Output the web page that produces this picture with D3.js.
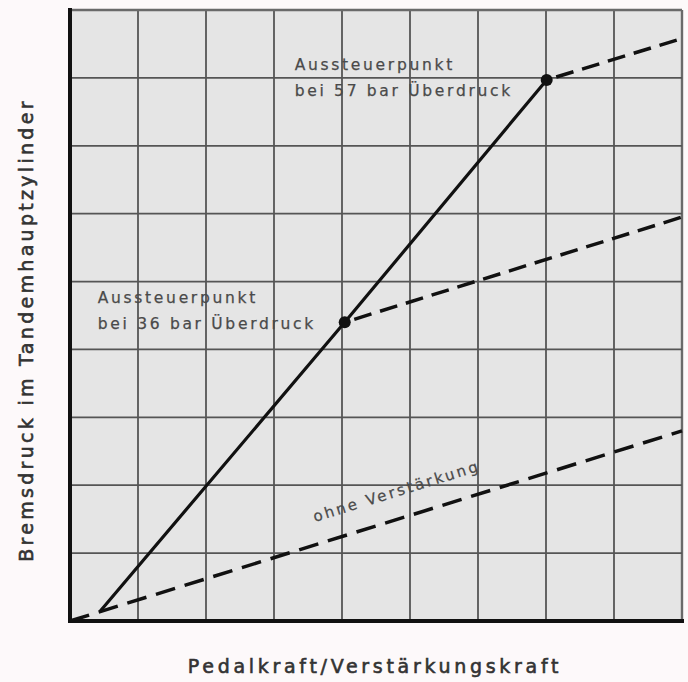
<!DOCTYPE html>
<html>
<head>
<meta charset="utf-8">
<script src="https://cdn.jsdelivr.net/npm/d3@7"></script>
<style>
  html, body { margin: 0; padding: 0; background: #fdf9fa; }
  svg { display: block; }
</style>
</head>
<body>
<svg id="chart" width="688" height="682"></svg>
<script>
// Grid divisions (no numeric tick labels are printed on this diagram)
const xGrid = [0, 1, 2, 3, 4, 5, 6, 7, 8, 9];
const yGrid = [0, 1, 2, 3, 4, 5, 6, 7, 8, 9];

// Curves in grid units: pedal force (x) vs. brake pressure (y)
const ohneVerstaerkung = [[0, 0], [9, 2.8]];
const mitVerstaerkung = [[0.44, 0.14], [4.04, 4.4], [7.01, 7.97]];
const nach36bar = [[4.04, 4.4], [9, 5.95]];
const nach57bar = [[7.01, 7.97], [9, 8.58]];

// Saturation points (Aussteuerpunkte)
const aussteuerpunkte = [
  { x: 4.04, y: 4.4, lines: ["Aussteuerpunkt", "bei 36 bar Überdruck"] },
  { x: 7.01, y: 7.97, lines: ["Aussteuerpunkt", "bei 57 bar Überdruck"] }
];

const xLabel = "Pedalkraft/Verstärkungskraft";
const yLabel = "Bremsdruck im Tandemhauptzylinder";
const curveLabel = "ohne Verstärkung";

const svg = d3.select("#chart");
const margin = { left: 70, top: 10, right: 6, bottom: 61 };
const W = 688, H = 682;

const x = d3.scaleLinear().domain([0, 9]).range([margin.left, W - margin.right]);
const y = d3.scaleLinear().domain([0, 9]).range([H - margin.bottom, margin.top]);

const fontFam = "'DejaVu Sans', sans-serif";

// Plot background
svg.append("rect")
  .attr("x", x(0)).attr("y", y(9))
  .attr("width", x(9) - x(0)).attr("height", y(0) - y(9))
  .attr("fill", "#e5e5e5");

// Grid lines, including the top and right frame
const grid = svg.append("g").attr("stroke", "#555").attr("stroke-width", 1.8);
grid.selectAll("line.v").data(xGrid.slice(1)).join("line")
  .attr("x1", d => x(d)).attr("x2", d => x(d))
  .attr("y1", y(9)).attr("y2", y(0))
  .attr("stroke", d => d === 9 ? "#6a6a6a" : null)
  .attr("stroke-width", d => d === 9 ? 2.4 : null);
grid.selectAll("line.h").data(yGrid.slice(1)).join("line")
  .attr("x1", x(0)).attr("x2", x(9))
  .attr("y1", d => y(d)).attr("y2", d => y(d))
  .attr("stroke", d => d === 9 ? "#6a6a6a" : null)
  .attr("stroke-width", d => d === 9 ? 2.4 : null);

// Axes (thick left and bottom edges)
const axes = svg.append("g").attr("stroke", "#111").attr("stroke-width", 4).attr("stroke-linecap", "square");
axes.append("line").attr("x1", x(0)).attr("x2", x(0)).attr("y1", y(9)).attr("y2", y(0));
axes.append("line").attr("x1", x(0)).attr("x2", x(9)).attr("y1", y(0)).attr("y2", y(0));

const line = d3.line().x(d => x(d[0])).y(d => y(d[1]));

const curves = svg.append("g").attr("fill", "none").attr("stroke", "#111");
curves.append("path").datum(ohneVerstaerkung).attr("d", line)
  .attr("stroke-width", 3.5).attr("stroke-dasharray", "20,10");
curves.append("path").datum(nach36bar).attr("d", line)
  .attr("stroke-width", 3.5).attr("stroke-dasharray", "18,9").attr("stroke-dashoffset", -10);
curves.append("path").datum(nach57bar).attr("d", line)
  .attr("stroke-width", 3.5).attr("stroke-dasharray", "18,9").attr("stroke-dashoffset", -10);
curves.append("path").datum(mitVerstaerkung).attr("d", line)
  .attr("stroke-width", 3.2);

// Saturation point markers and their labels
svg.selectAll("circle.pt").data(aussteuerpunkte).join("circle")
  .attr("cx", d => x(d.x)).attr("cy", d => y(d.y)).attr("r", 6).attr("fill", "#111");

const labelOffsets = [{ dx: -247, dy: -19 }, { dx: -252, dy: -10 }];
aussteuerpunkte.forEach((p, i) => {
  const t = svg.append("text")
    .attr("font-family", fontFam).attr("font-size", 15.5)
    .attr("letter-spacing", 2.7).attr("fill", "#4a4a4a")
    .attr("stroke", "#4a4a4a").attr("stroke-width", 0.25);
  p.lines.forEach((s, j) => {
    t.append("tspan")
      .attr("x", x(p.x) + labelOffsets[i].dx)
      .attr("y", y(p.y) + labelOffsets[i].dy + j * 26)
      .text(s);
  });
});

// Label along the unboosted curve
const angle = -Math.atan2(y(0) - y(ohneVerstaerkung[1][1]), x(ohneVerstaerkung[1][0]) - x(0)) * 180 / Math.PI;
svg.append("text")
  .attr("transform", `translate(315,522) rotate(${angle})`)
  .attr("font-family", fontFam).attr("font-size", 15)
  .attr("letter-spacing", 2.6).attr("fill", "#4a4a4a")
  .attr("stroke", "#4a4a4a").attr("stroke-width", 0.25)
  .text(curveLabel);

// Axis titles
svg.append("text")
  .attr("x", 375).attr("y", 673).attr("text-anchor", "middle")
  .attr("font-family", fontFam).attr("font-size", 19).attr("font-weight", "normal")
  .attr("letter-spacing", 3.7).attr("fill", "#333").attr("stroke", "#333").attr("stroke-width", 0.6)
  .text(xLabel);
svg.append("text")
  .attr("transform", "translate(33,330) rotate(-90)").attr("text-anchor", "middle")
  .attr("font-family", fontFam).attr("font-size", 19).attr("font-weight", "normal")
  .attr("letter-spacing", 3.3).attr("fill", "#333").attr("stroke", "#333").attr("stroke-width", 0.6)
  .text(yLabel);
</script>
</body>
</html>
